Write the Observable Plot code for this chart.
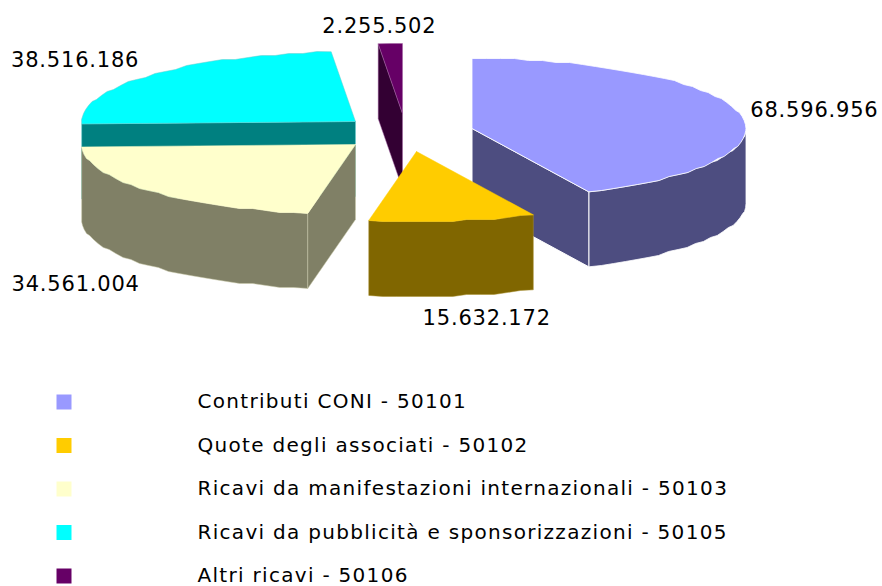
<!DOCTYPE html>
<html><head><meta charset="utf-8">
<script src="https://cdn.jsdelivr.net/npm/d3@7"></script>
<script src="https://cdn.jsdelivr.net/npm/@observablehq/plot@0.6"></script>
<style>html,body{margin:0;padding:0;background:#fff}svg{display:block}</style>
</head><body><div id="chart"></div>
<script>
const categories = ["Contributi CONI - 50101","Quote degli associati - 50102","Ricavi da manifestazioni internazionali - 50103","Ricavi da pubblicità e sponsorizzazioni - 50105","Altri ricavi - 50106"];
const values = [68596956,15632172,34561004,38516186,2255502];
const valueLabels = ["68.596.956","15.632.172","34.561.004","38.516.186","2.255.502"];
const topColors = ["#9999FF","#FFCC00","#FFFFCC","#00FFFF","#660066"];
const sideColors = ["#4D4D80","#806600","#808066","#008080","#330033"];
const edgeColors = ["#ffffff","#a89030","#c8c8a8","#66cccc","#a060a0"];

// layout of the exploded 3D pie
const apexX = [471.5,416,355,355,402];
const apexY = [128,151,144,121,113];
const labelDX = [75,34,-73,-75,-11];
const labelDY = [-3,97,94,-15,-17];
const rx = 274, ry = 70, depth = 75;
const grain = 2; // the rim of the reference is drawn in small steps

const total = d3.sum(values);
const cum = d3.cumsum(values);
const bounds = values.map((v,i)=>[(cum[i]-v)/total*2*Math.PI, cum[i]/total*2*Math.PI]);
const rim = (i,a,dz=0)=>({x:apexX[i]+rx*Math.sin(a), y:apexY[i]-ry*Math.cos(a)+dz});
const apex = (i,dz=0)=>({x:apexX[i], y:apexY[i]+dz});
const arc = (i,a0,a1,dz=0)=>{
  const n = Math.max(2,Math.ceil(Math.abs(a1-a0)/(Math.PI/60)));
  return d3.range(n+1).map(k=>{
    const p = rim(i,a0+(a1-a0)*k/n,dz);
    return (k===0||k===n) ? p : {x:p.x, y:apexY[i]+dz+Math.round((p.y-apexY[i]-dz)/grain)*grain};
  });
};
const close = p=>[...p,p[0]];
const topFace = i=>close([apex(i),...arc(i,bounds[i][0],bounds[i][1])]);
const wall = (i,a0,a1)=>close([...arc(i,a0,a1),...arc(i,a1,a0,depth)]);
const cut = (i,a)=>close([apex(i),rim(i,a),rim(i,a,depth),apex(i,depth)]);
const fm = (pts,fill,stroke,w=0.8)=>Plot.line(pts,{x:"x",y:"y",fill,stroke,strokeWidth:w,strokeLinejoin:"round"});
const spaced = s=>(index,scales,vals,dims,ctx,next)=>{const g=next(index,scales,vals,dims,ctx);g.style.letterSpacing=s;return g;};
const b = bounds;
const H = Math.PI/2;

const marks = [
  // purple
  fm(cut(4,b[4][0]),sideColors[4],edgeColors[4],0.5),
  fm(topFace(4),topColors[4],edgeColors[4],0.5),
  // cyan
  fm(cut(3,b[3][0]),sideColors[3],edgeColors[3],0.5),
  fm(topFace(3),topColors[3],edgeColors[3],0.5),
  // pale yellow
  fm(wall(2,b[2][0],b[2][1]),sideColors[2],edgeColors[2],0.5),
  fm(cut(2,b[2][0]),sideColors[2],edgeColors[2],0.5),
  fm(topFace(2),topColors[2],topColors[2],0.5),
  // blue
  fm(wall(0,H,b[0][1]),sideColors[0],"#ffffff",0.8),
  fm(cut(0,b[0][1]),sideColors[0],"#ffffff",1),
  fm(topFace(0),topColors[0],"#ffffff",0.8),
  // gold
  fm(wall(1,b[1][0],b[1][1]),sideColors[1],edgeColors[1],0.5),
  fm(topFace(1),topColors[1],topColors[1],0.5),
  // value labels
  Plot.text(values,{
    x:(d,i)=>rim(i,(b[i][0]+b[i][1])/2).x+labelDX[i],
    y:(d,i)=>rim(i,(b[i][0]+b[i][1])/2).y+labelDY[i],
    text:(d,i)=>valueLabels[i],fontSize:21,fill:"#000",textAnchor:"middle",lineAnchor:"middle",render:spaced("0.8px")}),
  // legend
  Plot.dot(categories,{x:()=>63.5,y:(d,i)=>401.5+i*43.5,symbol:"square",r:8.46,fill:(d,i)=>topColors[i],stroke:null}),
  Plot.text(categories,{x:()=>197,y:(d,i)=>401.5+i*43.5,text:d=>d,fontSize:20,fill:"#000",textAnchor:"start",lineAnchor:"middle",render:spaced("1.3px")})
];
const plot = Plot.plot({
  width:882,height:586,margin:0,
  x:{axis:null,domain:[0,882],range:[0,882]},
  y:{axis:null,domain:[0,586],range:[0,586]},
  color:{type:"identity"},
  style:{fontFamily:"'DejaVu Sans',sans-serif",background:"#fff"},
  marks
});
document.getElementById("chart").append(plot);
</script></body></html>
